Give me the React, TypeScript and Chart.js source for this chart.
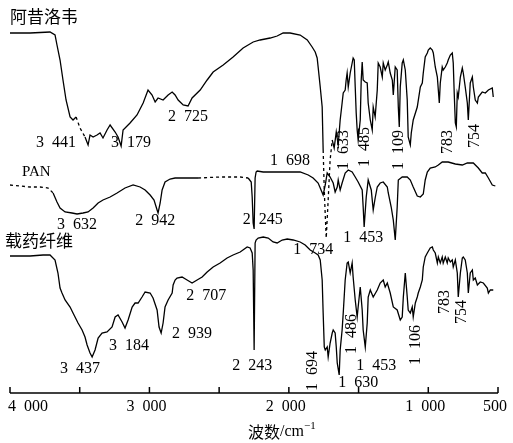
import React, { useEffect, useRef } from "react";
import { Chart, registerables } from "chart.js";
Chart.register(...registerables);

// 阿昔洛韦 (top spectrum) — wavenumber (cm-1) and transmittance (a.u.)
const acvWn = [4000,3856,3713,3677,3663,3641,3620,3598,3569,3548,3526,3498,3462,3440,3426,3404,3376,3354,3333,3304,3282,3246,3225,3203,3189,3139,3089,3045,3010,2981,2959,2938,2902,2866,2837,2816,2794,2758,2723,2694,2636,2586,2543,2471,2400,2328,2256,2206,2134,2084,2041,1991,1919,1868,1833,1811,1797,1790,1775,1761,1754,1746,1739,1732,1718,1704,1689,1675,1660,1646,1632,1618,1610,1596,1589,1582,1574,1560,1546,1539,1531,1524,1517,1510,1503,1488,1481,1474,1467,1452,1438,1431,1416,1402,1395,1381,1366,1359,1345,1330,1323,1309,1294,1287,1273,1258,1251,1237,1223,1215,1208,1201,1187,1179,1165,1151,1144,1129,1122,1108,1079,1057,1043,1036,1022,1007,1000,986,971,964,950,935,928,921,914,900,893,878,864,857,842,828,821,814,806,799,792,785,770,756,749,735,720,713,699,684,677,663,648,641,613,591,569,541,534];
const acvT = [360,360,361,358,348,333,313,293,276,273,276,265,256,248,258,256,258,260,255,263,268,261,256,247,263,270,278,290,303,298,291,295,293,298,301,298,293,288,287,295,303,313,321,328,336,345,351,353,355,357,360,360,358,353,346,341,335,326,306,286,243,203,178,155,193,233,253,245,261,248,273,290,300,303,313,320,306,320,330,335,333,306,280,263,253,273,313,331,313,311,310,290,273,263,286,276,303,330,326,316,330,323,328,331,320,313,298,326,323,286,266,306,330,333,323,293,256,248,260,273,286,306,310,320,336,340,343,345,343,340,326,316,303,290,310,326,323,326,330,333,338,340,330,300,270,266,300,296,316,325,320,306,290,273,310,316,306,293,290,296,301,300,303,305,296];

// PAN (middle spectrum)
const panWn = [4000,3928,3856,3785,3727,3691,3663,3641,3605,3555,3519,3476,3440,3404,3368,3333,3282,3232,3175,3117,3067,3031,2995,2967,2945,2938,2923,2909,2888,2852,2816,2730,2651,2493,2349,2292,2270,2263,2256,2249,2242,2235,2227,2184,2134,2062,1969,1919,1861,1826,1790,1775,1754,1739,1725,1704,1682,1668,1653,1646,1632,1618,1596,1574,1546,1524,1503,1474,1467,1460,1445,1431,1409,1395,1381,1366,1345,1323,1294,1287,1266,1251,1237,1223,1215,1187,1151,1129,1108,1079,1057,1036,1022,1007,986,950,928,900,857,806,756,720,677,641,613,591,569,541,519];
const panT = [208,207,206,206,205,200,191,185,181,180,179,180,181,185,190,193,196,200,205,208,206,203,198,193,183,180,190,203,211,214,215,215,215,216,216,215,211,196,170,164,215,221,222,221,221,221,221,221,218,215,210,205,198,208,220,216,210,201,206,213,203,210,220,223,221,216,211,203,186,166,196,213,203,183,195,206,210,211,206,200,186,173,153,186,213,216,216,213,206,197,196,199,213,221,225,226,228,231,231,229,228,230,230,225,220,220,215,208,207];

// 载药纤维 (bottom spectrum)
const fibWn = [4000,3856,3763,3713,3677,3656,3641,3627,3605,3569,3548,3512,3483,3462,3447,3426,3411,3390,3368,3340,3304,3268,3246,3225,3196,3175,3153,3124,3103,3081,3053,3031,2995,2974,2945,2931,2916,2902,2888,2866,2837,2830,2816,2802,2766,2730,2694,2658,2622,2586,2543,2493,2443,2400,2349,2299,2278,2263,2256,2249,2242,2235,2220,2184,2148,2113,2084,2048,2012,1969,1919,1883,1847,1811,1790,1775,1761,1754,1746,1739,1725,1718,1704,1689,1682,1668,1660,1653,1639,1632,1618,1610,1596,1582,1574,1560,1546,1539,1524,1510,1503,1488,1474,1467,1452,1438,1431,1416,1395,1366,1345,1323,1309,1294,1273,1251,1223,1201,1187,1179,1165,1151,1144,1129,1115,1108,1093,1079,1072,1057,1043,1036,1022,1007,986,971,964,950,935,928,914,900,893,878,864,857,842,828,821,806,792,785,770,756,749,735,720,713,699,684,677,663,648,627,605,577,569,555,534];
const fibT = [137,137,138,138,133,120,105,100,93,86,80,70,63,56,48,40,36,43,55,60,61,66,76,78,71,65,73,86,90,90,96,101,100,95,83,66,60,70,86,93,100,108,113,115,116,113,110,113,116,121,126,130,135,138,141,146,145,140,123,43,150,153,155,156,155,151,150,153,154,153,151,148,143,140,138,133,113,80,46,43,46,36,50,60,63,60,46,30,18,43,63,80,113,130,131,120,130,116,93,76,86,106,83,63,46,70,96,103,96,103,110,113,106,110,100,86,83,73,76,96,120,96,83,80,86,76,90,96,100,106,113,126,136,140,145,146,143,140,130,136,130,136,130,136,130,135,131,133,126,133,120,96,120,135,136,133,120,100,120,123,113,115,108,111,110,105,100,103,103];

const seriesNames = ["阿昔洛韦", "PAN", "载药纤维"];

// faint / broken stretches of each trace [from wn, to wn]
const acvDashFrom = [3530, 1757];
const acvDashTo = [3470, 1700];
const panDashFrom = [4000, 2660];
const panDashTo = [3720, 2340];
const fibDashFrom: number[] = [];
const fibDashTo: number[] = [];

// x-axis ticks
const tickValues = [4000, 3500, 3000, 2500, 2000, 1500, 1000, 500];
const tickLabels = ["4\u2002000", "", "3\u2002000", "", "2\u2002000", "", "1\u2002000", "500"];
const axisTitle = "波数";
const axisUnit = "/cm";
const axisExp = "\u22121";

// series name labels (left anchor wn, T)
const nameWn = [4000, 3799, 4036];
const nameT = [376, 221, 152];

// peak annotations
const peakText = [
  "3\u2002441", "3\u2002179", "2\u2002725", "1\u2002633", "1\u2002485", "1\u2002109", "783", "754",
  "3\u2002632", "2\u2002942", "2\u2002245", "1\u2002698", "1\u2002453",
  "1\u2002734", "2\u2002707", "2\u2002939", "3\u2002184", "3\u2002437", "2\u2002243", "1\u2002694", "1\u2002630", "1\u2002486", "1\u2002453", "1\u2002106", "783", "754",
];
const peakWn = [3670, 3132, 2723, 1603, 1452, 1208, 857, 670, 3519, 2959, 2188, 1991, 1467, 1825, 2593, 2694, 3146, 3498, 2263, 1825, 1503, 1546, 1373, 1086, 878, 763];
const peakT = [250, 250, 276, 243, 246, 243, 251, 257, 168, 172, 173, 232, 155, 143, 97, 59, 47, 24, 27, 22, 10, 59, 27, 48, 91, 81];
const peakVertical = [0, 0, 0, 1, 1, 1, 1, 1, 0, 0, 0, 0, 0, 0, 0, 0, 0, 0, 0, 1, 0, 1, 0, 1, 1, 1];

const NUM_FONT = '16px "Liberation Serif", "DejaVu Serif", serif';
const CJK_FONT = '17px "Noto Sans CJK SC", sans-serif';

const toXY = (wn: number[], t: number[]) => wn.map((w, i) => ({ x: w, y: t[i] }));

const overlayPlugin = {
  id: "overlay",
  afterDraw(chart: any) {
    const { ctx, chartArea, scales } = chart;
    const xs = scales.x;
    const ys = scales.y;
    ctx.save();
    ctx.strokeStyle = "#000";
    ctx.fillStyle = "#000";
    ctx.lineWidth = 1.5;
    const y0 = chartArea.bottom;
    ctx.beginPath();
    ctx.moveTo(xs.getPixelForValue(4000), y0);
    ctx.lineTo(xs.getPixelForValue(500), y0);
    ctx.stroke();
    ctx.font = NUM_FONT;
    ctx.textBaseline = "middle";
    tickValues.forEach((v, i) => {
      const x = xs.getPixelForValue(v);
      ctx.beginPath();
      ctx.moveTo(x, y0);
      ctx.lineTo(x, y0 - 6);
      ctx.stroke();
      const lab = tickLabels[i];
      if (lab) {
        if (i === 0) {
          ctx.textAlign = "left";
          ctx.fillText(lab, x - 2, y0 + 14);
        } else {
          ctx.textAlign = "center";
          ctx.fillText(lab, x - 3, y0 + 14);
        }
      }
    });
    const tx = xs.getPixelForValue(2050);
    const ty = y0 + 39;
    ctx.font = '16px "Noto Sans CJK SC", sans-serif';
    const w1 = ctx.measureText(axisTitle).width;
    ctx.font = '16px "Liberation Serif", serif';
    const w2 = ctx.measureText(axisUnit).width;
    ctx.font = '11px "Liberation Serif", serif';
    const w3 = ctx.measureText(axisExp).width;
    let cx = tx - (w1 + w2 + w3) / 2;
    ctx.textAlign = "left";
    ctx.font = '16px "Noto Sans CJK SC", sans-serif';
    ctx.fillText(axisTitle, cx, ty);
    cx += w1;
    ctx.font = '16px "Liberation Serif", serif';
    ctx.fillText(axisUnit, cx, ty);
    cx += w2;
    ctx.font = '11px "Liberation Serif", serif';
    ctx.fillText(axisExp, cx, ty - 6);

    seriesNames.forEach((n, i) => {
      ctx.font = n === "PAN" ? '15px "Liberation Serif", serif' : CJK_FONT;
      ctx.textAlign = "left";
      ctx.fillText(n, xs.getPixelForValue(nameWn[i]) - (n === "PAN" ? 16 : 0), ys.getPixelForValue(nameT[i]));
    });

    ctx.font = NUM_FONT;
    peakText.forEach((t, i) => {
      const x = xs.getPixelForValue(peakWn[i]);
      const y = ys.getPixelForValue(peakT[i]);
      ctx.save();
      ctx.translate(x, y);
      if (peakVertical[i]) ctx.rotate(-Math.PI / 2);
      ctx.textAlign = "center";
      ctx.textBaseline = "middle";
      ctx.fillText(t, 0, 0);
      ctx.restore();
    });
    ctx.restore();
  },
};

export default function App() {
  const ref = useRef<HTMLCanvasElement | null>(null);
  useEffect(() => {
    if (!ref.current) return;
    const line = (wn: number[], t: number[], dFrom: number[], dTo: number[]) => ({
      data: toXY(wn, t),
      borderColor: "#000",
      borderWidth: 1.3,
      pointRadius: 0,
      tension: 0,
      fill: false,
      segment: {
        borderDash: (c: any) => {
          const x = c.p0.parsed.x;
          for (let k = 0; k < dFrom.length; k++) {
            if (x <= dFrom[k] && x > dTo[k]) return [3, 3];
          }
          return undefined;
        },
      },
    });
    const chart = new Chart(ref.current, {
      type: "line",
      data: {
        datasets: [
          line(acvWn, acvT, acvDashFrom, acvDashTo),
          line(panWn, panT, panDashFrom, panDashTo),
          line(fibWn, fibT, fibDashFrom, fibDashTo),
        ],
      },
      options: {
        animation: false,
        responsive: false,
        devicePixelRatio: 1,
        events: [],
        layout: { padding: { left: 10, right: 15, top: 13, bottom: 50 } },
        plugins: { legend: { display: false }, tooltip: { enabled: false } },
        scales: {
          x: { type: "linear", min: 500, max: 4000, reverse: true, display: false },
          y: { type: "linear", min: 0, max: 380, display: false },
        },
      },
      plugins: [overlayPlugin],
    });
    return () => chart.destroy();
  }, []);
  return (
    <div style={{ position: "absolute", left: 0, top: 0, width: 513, height: 443, background: "#fff" }}>
      <canvas ref={ref} width={513} height={443} style={{ display: "block" }} />
    </div>
  );
}
